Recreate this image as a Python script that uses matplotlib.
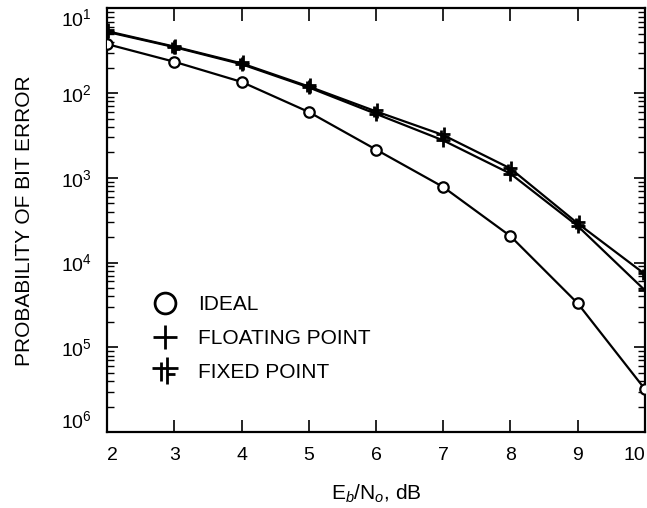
import numpy as np
import matplotlib
matplotlib.use('Agg')
import matplotlib.pyplot as plt
from matplotlib.path import Path

plt.rcParams['font.family'] = ['Liberation Sans', 'DejaVu Sans']
plt.rcParams['mathtext.fontset'] = 'custom'
plt.rcParams['mathtext.rm'] = 'Liberation Sans'
plt.rcParams['mathtext.it'] = 'Liberation Sans:italic'

# Eb/No in dB
ebno = [2, 3, 4, 5, 6, 7, 8, 9, 10]

# probability of bit error
ber_ideal = [3.8e-2, 2.35e-2, 1.36e-2, 6.0e-3, 2.16e-3, 7.8e-4, 2.05e-4, 3.3e-5, 3.2e-6]
ber_float = [5.3e-2, 3.5e-2, 2.2e-2, 1.17e-2, 5.7e-3, 2.77e-3, 1.12e-3, 2.7e-4, 4.7e-5]
ber_fixed = [5.4e-2, 3.55e-2, 2.25e-2, 1.2e-2, 6.1e-3, 3.2e-3, 1.29e-3, 2.9e-4, 7.3e-5]

ytick_vals = [1e-6, 1e-5, 1e-4, 1e-3, 1e-2, 1e-1]
ytick_labels = ['$10^{6}$', '$10^{5}$', '$10^{4}$', '$10^{3}$', '$10^{2}$', '$10^{1}$']

# double-cross marker used for the fixed point curve
fixed_verts = [(-0.25, -0.6), (-0.25, 0.5),
               (0.1, -0.75), (0.1, 0.8),
               (-0.75, 0.15), (0.75, 0.15),
               (0.1, -0.2), (0.6, -0.2)]
fixed_codes = [Path.MOVETO, Path.LINETO] * 4
fixed_marker = Path(fixed_verts, fixed_codes)

fig = plt.figure(figsize=(6.47, 5.08), dpi=100)
ax = fig.add_axes([0.1654, 0.1496, 0.8315, 0.8337])

ax.plot(ebno, ber_ideal, color='black', lw=1.6, marker='o', ms=7.5,
        mfc='white', mec='black', mew=1.6, zorder=3)
ax.plot(ebno, ber_float, color='black', lw=1.6, marker='+', ms=10,
        mew=2.0, zorder=3)
ax.plot(ebno, ber_fixed, color='black', lw=1.6, marker=fixed_marker, ms=11,
        mew=2.0, zorder=3)

ax.set_yscale('log')
ax.set_xlim(2, 10)
ax.set_ylim(1e-6, 1e-1)

ax.set_xticks(ebno)
ax.set_xticklabels([str(v) for v in ebno])
ax.set_yticks(ytick_vals)
ax.set_yticklabels(ytick_labels)
ax.yaxis.set_minor_locator(matplotlib.ticker.LogLocator(base=10, subs=np.arange(2, 10)))
ax.yaxis.set_minor_formatter(matplotlib.ticker.NullFormatter())

ax.tick_params(axis='x', which='major', direction='in', length=9, width=1.2,
               top=True, labelsize=14, pad=11)
ax.tick_params(axis='y', which='major', direction='in', length=8, width=1.2,
               right=True, labelsize=14, pad=11)
ax.tick_params(axis='y', which='minor', direction='in', length=5, width=1.0,
               right=True)

# end labels sit inside the frame like the original
xl = ax.get_xticklabels()
xl[0].set_ha('left')
xl[-1].set_ha('right')
yl = ax.get_yticklabels()
yl[0].set_va('bottom')
yl[-1].set_va('top')

for s in ax.spines.values():
    s.set_linewidth(1.6)

ax.set_ylabel('PROBABILITY OF BIT ERROR', fontsize=15)
ax.yaxis.set_label_coords(-0.136, 0.5)
ax.set_xlabel('E$_{\\it{b}}$/N$_{\\it{o}}$, dB', fontsize=15)
ax.xaxis.set_label_coords(0.5, -0.12)

# legend
h_ideal = plt.Line2D([], [], ls='none', marker='o', ms=15, mfc='white',
                     mec='black', mew=2.0)
h_float = plt.Line2D([], [], ls='none', marker='+', ms=17, mew=2.0, color='black')
h_fixed = plt.Line2D([], [], ls='none', marker=fixed_marker, ms=20, mew=2.0,
                     color='black')
ax.legend([h_ideal, h_float, h_fixed], ['IDEAL', 'FLOATING POINT', 'FIXED POINT'],
          loc='upper left', bbox_to_anchor=(0.078, 0.323), frameon=False,
          fontsize=15, handlelength=1.5, handletextpad=0.84, labelspacing=0.72,
          borderaxespad=0, borderpad=0)

plt.savefig('out.png', dpi=100)
plt.close()
